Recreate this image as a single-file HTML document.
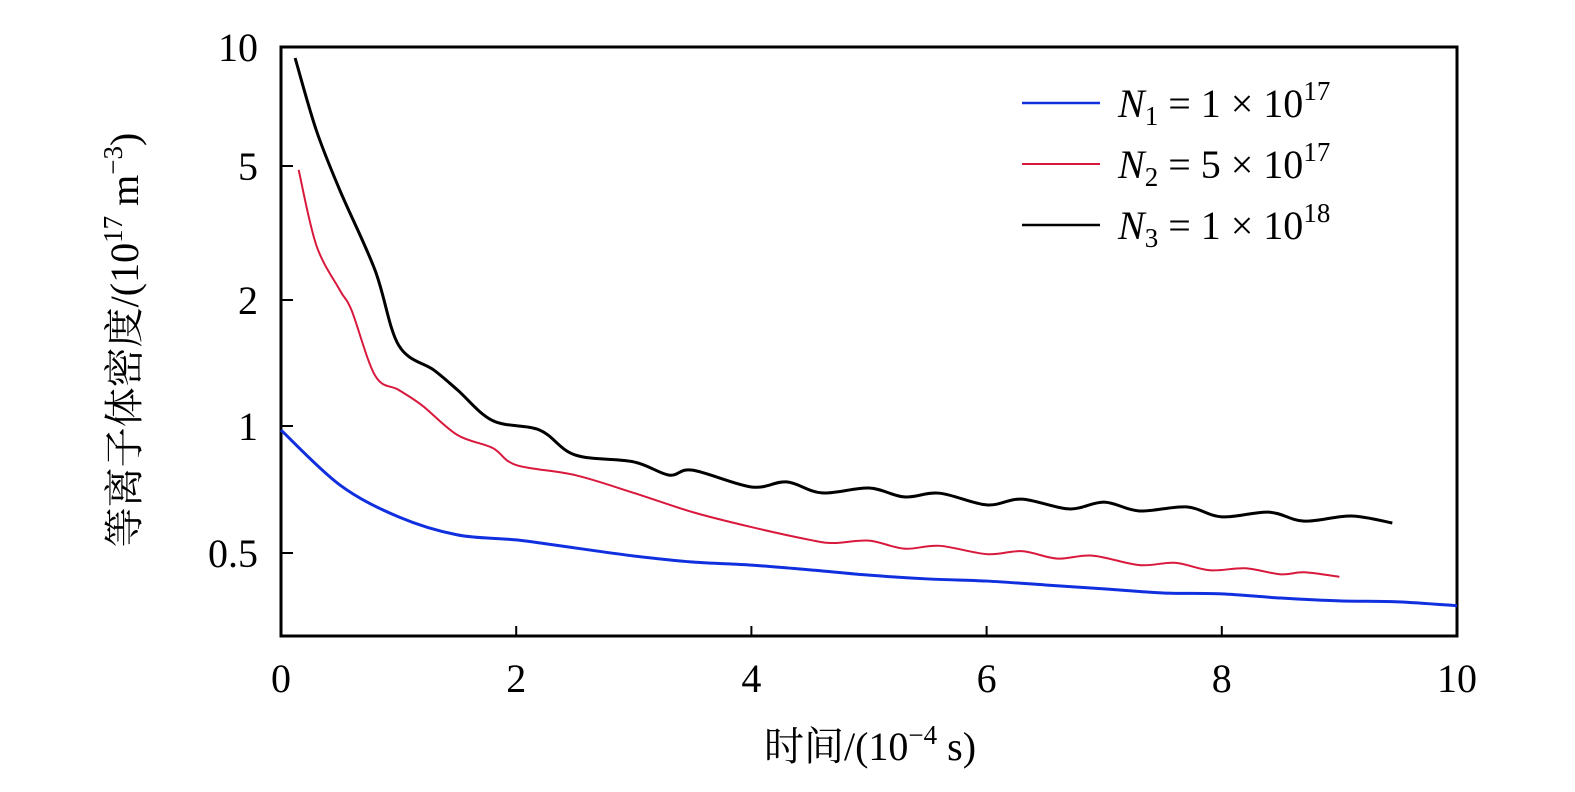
<!DOCTYPE html>
<html><head><meta charset="utf-8"><style>
body{margin:0;background:#fff;}
svg text{font-family:"Liberation Serif","Noto Serif CJK SC",serif;fill:#000;}
</style></head><body>
<svg id="chart" width="1575" height="787">
<rect x="281" y="47" width="1176" height="589" fill="none" stroke="#000" stroke-width="3"/>
<g id="axes"></g><g id="series"></g>
<g>
<line x1="1022" y1="103" x2="1100" y2="103" stroke="#1030e0" stroke-width="2.5"/>
<text x="1118" y="117" font-size="40" font-style="italic">N<tspan font-size="27" dy="8" font-style="normal">1</tspan><tspan font-style="normal" dy="-8"> = 1 × 10</tspan><tspan font-size="27" dy="-17" font-style="normal">17</tspan></text>
<line x1="1022" y1="164" x2="1100" y2="164" stroke="#d8183c" stroke-width="2"/>
<text x="1118" y="178" font-size="40" font-style="italic">N<tspan font-size="27" dy="8" font-style="normal">2</tspan><tspan font-style="normal" dy="-8"> = 5 × 10</tspan><tspan font-size="27" dy="-17" font-style="normal">17</tspan></text>
<line x1="1022" y1="225" x2="1100" y2="225" stroke="#000" stroke-width="2.5"/>
<text x="1118" y="239" font-size="40" font-style="italic">N<tspan font-size="27" dy="8" font-style="normal">3</tspan><tspan font-style="normal" dy="-8"> = 1 × 10</tspan><tspan font-size="27" dy="-17" font-style="normal">18</tspan></text>
</g>
<text x="870" y="760" font-size="40" text-anchor="middle">时间/(10<tspan font-size="27" dy="-16">−4</tspan><tspan dy="16"> s)</tspan></text>
<text transform="translate(138,340) rotate(-90)" font-size="40" text-anchor="middle">等离子体密度/(10<tspan font-size="27" dy="-16">17</tspan><tspan dy="16"> m</tspan><tspan font-size="27" dy="-16">−3</tspan><tspan dy="16">)</tspan></text>
</svg>
<script>
const xTicks=[0,2,4,6,8,10];
const yTicks=[10,5,2,1,0.5];
const yTickLabels=["10","5","2","1","0.5"];
const n1X=[0,0.5,1,1.5,2,2.5,3,3.5,4,4.5,5,5.5,6,6.5,7,7.5,8,8.5,9,9.5,10];
const n1Y=[0.978,0.725,0.609,0.552,0.537,0.514,0.492,0.476,0.468,0.456,0.443,0.434,0.429,0.420,0.411,0.402,0.400,0.391,0.385,0.383,0.375];
const n2X=[0.15,0.3,0.5,0.6,0.8,1.0,1.2,1.5,1.8,2,2.5,3,3.5,4,4.5,4.7,5,5.3,5.6,6,6.3,6.6,6.9,7.3,7.6,7.9,8.2,8.5,8.7,9];
const n2Y=[4.87,2.91,2.14,1.89,1.32,1.22,1.12,0.952,0.887,0.808,0.765,0.694,0.625,0.576,0.537,0.528,0.535,0.512,0.52,0.497,0.505,0.485,0.493,0.468,0.474,0.455,0.46,0.445,0.45,0.439];
const n3X=[0.12,0.3,0.5,0.8,1,1.3,1.5,1.8,2.2,2.5,3,3.3,3.5,4,4.3,4.6,5,5.3,5.6,6,6.3,6.7,7,7.3,7.7,8,8.4,8.7,9.1,9.45];
const n3Y=[9.38,6.16,4.24,2.45,1.56,1.36,1.22,1.03,0.978,0.854,0.822,0.765,0.786,0.717,0.737,0.694,0.713,0.679,0.693,0.65,0.671,0.636,0.66,0.629,0.643,0.609,0.625,0.595,0.612,0.589];
const NS="http://www.w3.org/2000/svg";
function xs(v){return 281+v*117.6;}
const yv=[10,5,2,1,0.5],yp=[47,166,300,426,553];
function ys(v){
 const l=Math.log(v);
 for(let i=0;i<yv.length-1;i++){
  if(v>=yv[i+1]||i==yv.length-2){
   const a=Math.log(yv[i]),b=Math.log(yv[i+1]);
   return yp[i]+(l-a)/(b-a)*(yp[i+1]-yp[i]);
  }
 }
}
const axes=document.getElementById('axes');
xTicks.forEach(t=>{
 const ln=document.createElementNS(NS,'line');
 ln.setAttribute('x1',xs(t));ln.setAttribute('x2',xs(t));ln.setAttribute('y1',636);ln.setAttribute('y2',626);
 ln.setAttribute('stroke','#000');ln.setAttribute('stroke-width',2);
 
 
 axes.appendChild(ln);
 const tx=document.createElementNS(NS,'text');
 tx.setAttribute('x',xs(t));tx.setAttribute('y',692);tx.setAttribute('font-size',40);tx.setAttribute('text-anchor','middle');
 tx.textContent=t;
 
 
 axes.appendChild(tx);
});
yTicks.forEach((t,i)=>{
 if(i>0){
 const ln=document.createElementNS(NS,'line');
 ln.setAttribute('x1',281);ln.setAttribute('x2',293);ln.setAttribute('y1',ys(t));ln.setAttribute('y2',ys(t));
 ln.setAttribute('stroke','#000');ln.setAttribute('stroke-width',2);
 
 
 axes.appendChild(ln);}
 const tx=document.createElementNS(NS,'text');
 tx.setAttribute('x',258);tx.setAttribute('y',ys(t)+14);tx.setAttribute('font-size',40);tx.setAttribute('text-anchor','end');
 tx.textContent=yTickLabels[i];
 
 
 axes.appendChild(tx);
});
function pathFor(X,Y){
 const p=X.map((x,i)=>[xs(x),ys(Y[i])]);
 let d='M'+p[0][0]+','+p[0][1];
 for(let i=0;i<p.length-1;i++){
  const p0=p[Math.max(i-1,0)],p1=p[i],p2=p[i+1],p3=p[Math.min(i+2,p.length-1)];
  const c1=[p1[0]+(p2[0]-p0[0])/6,p1[1]+(p2[1]-p0[1])/6];
  const c2=[p2[0]-(p3[0]-p1[0])/6,p2[1]-(p3[1]-p1[1])/6];
  d+=' C'+c1+' '+c2+' '+p2;
 }
 return d;
}
const ser=document.getElementById('series');
[[n1X,n1Y,'#1030e0',3,'series-n1'],[n2X,n2Y,'#d8183c',2,'series-n2'],[n3X,n3Y,'#000',3,'series-n3']].forEach(s=>{
 const pa=document.createElementNS(NS,'path');
 pa.setAttribute('d',pathFor(s[0],s[1]));
 pa.setAttribute('fill','none');pa.setAttribute('stroke',s[2]);pa.setAttribute('stroke-width',s[3]);
 
 
 ser.appendChild(pa);
});
</script>
</body></html>
